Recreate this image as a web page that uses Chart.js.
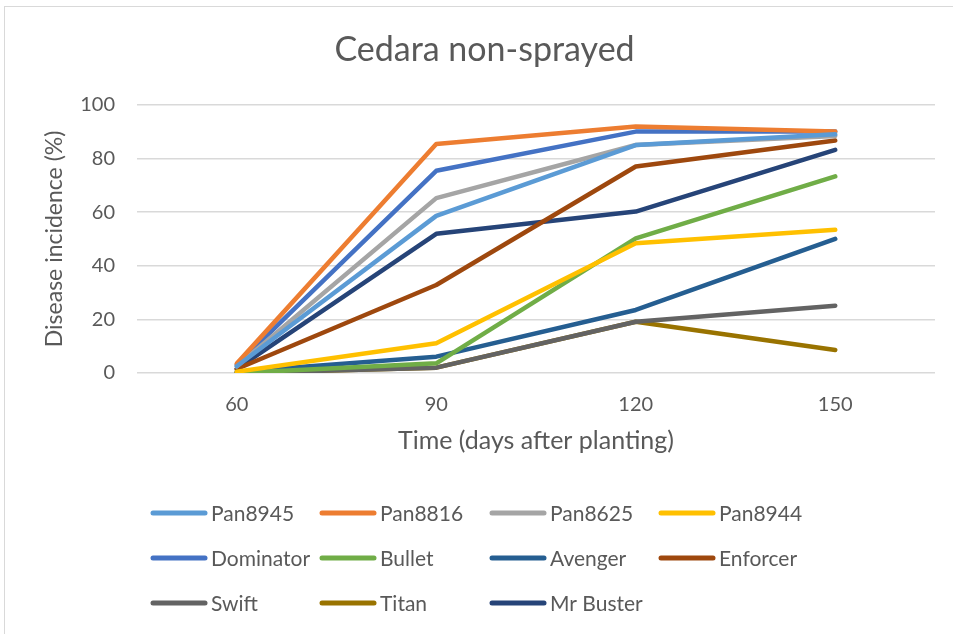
<!DOCTYPE html>
<html>
<head>
<meta charset="utf-8">
<script src="https://cdn.jsdelivr.net/npm/chart.js@4"></script>
<style>
  body { margin: 0; background: #fff; overflow: hidden; }
  #wrap { position: relative; width: 953px; height: 634px; }
  #frame { position: absolute; left: 4px; top: 6px; width: 1000px; height: 700px; border: 1px solid #d9d9d9; }
  #chart { position: absolute; left: 0; top: 0; }
</style>
</head>
<body>
<div id="wrap">
  <div id="frame"></div>
  <canvas id="chart" width="953" height="634"></canvas>
</div>
<script>
// days after planting
const categories = ['60', '90', '120', '150'];

// disease incidence (%) per cultivar
const pan8945 = [2.5, 58.6, 85, 89];
const pan8816 = [3.5, 85.4, 91.9, 90];
const pan8625 = [2.5, 65.2, 85, 88.4];
const pan8944 = [0.5, 11.1, 48.4, 53.4];
const dominator = [3, 75.4, 90, 90];
const bullet = [0, 3.6, 50.2, 73.3];
const avenger = [0.5, 6.1, 23.5, 50];
const enforcer = [1.5, 32.8, 77, 86.7];
const swift = [0, 2, 19.1, 25.1];
const titan = [0, 2, 19.1, 8.6];
const mrBuster = [1.5, 51.9, 60.2, 83.2];

const yTicks = [0, 20, 40, 60, 80, 100];

const textColor = '#595959';
const fontFamily = 'Lato, "Liberation Sans", sans-serif';

function series(label, data, color) {
    return {
        label: label,
        data: data,
        borderColor: color,
        backgroundColor: color,
        borderWidth: 4.5,
        pointRadius: 0,
        pointHoverRadius: 0,
        tension: 0,
        borderCapStyle: 'round',
        borderJoinStyle: 'round',
        fill: false
    };
}

const datasets = [
    series('Pan8945', pan8945, '#5B9BD5'),
    series('Pan8816', pan8816, '#ED7D31'),
    series('Pan8625', pan8625, '#A5A5A5'),
    series('Pan8944', pan8944, '#FFC000'),
    series('Dominator', dominator, '#4472C4'),
    series('Bullet', bullet, '#70AD47'),
    series('Avenger', avenger, '#255E91'),
    series('Enforcer', enforcer, '#9E480E'),
    series('Swift', swift, '#636363'),
    series('Titan', titan, '#997300'),
    series('Mr Buster', mrBuster, '#264478')
];

// Excel style legend: fixed columns, 4 per row
const gridLegend = {
    id: 'gridLegend',
    afterDraw(chart) {
        const ctx = chart.ctx;
        const colX = [151, 320, 490, 659];
        const rowY = [513, 558, 603];
        ctx.save();
        ctx.font = '21px ' + fontFamily;
        ctx.textBaseline = 'middle';
        ctx.textAlign = 'left';
        chart.data.datasets.forEach(function (ds, i) {
            const x = colX[i % 4];
            const y = rowY[Math.floor(i / 4)];
            ctx.strokeStyle = ds.borderColor;
            ctx.lineWidth = 5;
            ctx.lineCap = 'round';
            ctx.beginPath();
            ctx.moveTo(x + 2, y);
            ctx.lineTo(x + 54, y);
            ctx.stroke();
            ctx.fillStyle = textColor;
            ctx.fillText(ds.label, x + 60, y + 1);
        });
        ctx.restore();
    }
};

const ctx = document.getElementById('chart').getContext('2d');
new Chart(ctx, {
    type: 'line',
    data: {
        labels: categories,
        datasets: datasets
    },
    plugins: [gridLegend],
    options: {
        responsive: false,
        animation: false,
        events: [],
        layout: {
            padding: { left: 34, right: 18, top: 0, bottom: 161 }
        },
        plugins: {
            legend: { display: false },
            tooltip: { enabled: false },
            title: {
                display: true,
                text: 'Cedara non-sprayed',
                color: textColor,
                font: { family: fontFamily, size: 34, weight: 'normal', lineHeight: 1.2 },
                padding: { top: 30, bottom: 34 }
            }
        },
        scales: {
            x: {
                offset: true,
                afterFit: function (s) { s.height = 100; },
                grid: { display: false, drawTicks: false },
                border: { display: false },
                ticks: {
                    color: textColor,
                    padding: 20,
                    font: { family: fontFamily, size: 20 }
                },
                title: {
                    display: true,
                    text: 'Time (days after planting)',
                    color: textColor,
                    font: { family: fontFamily, size: 25 },
                    padding: { top: 0, bottom: 17 }
                }
            },
            y: {
                min: 0,
                max: 100,
                afterFit: function (s) { s.width = 103; },
                afterBuildTicks: function (s) { s.ticks = yTicks.map(v => ({ value: v })); },
                grid: { color: '#d9d9d9', lineWidth: 1.5, drawTicks: false },
                border: { display: false },
                ticks: {
                    color: textColor,
                    padding: 22,
                    font: { family: fontFamily, size: 20 }
                },
                title: {
                    display: true,
                    text: 'Disease incidence (%)',
                    color: textColor,
                    font: { family: fontFamily, size: 23 },
                    padding: { top: 7, bottom: 0 }
                }
            }
        }
    }
});
</script>
</body>
</html>
